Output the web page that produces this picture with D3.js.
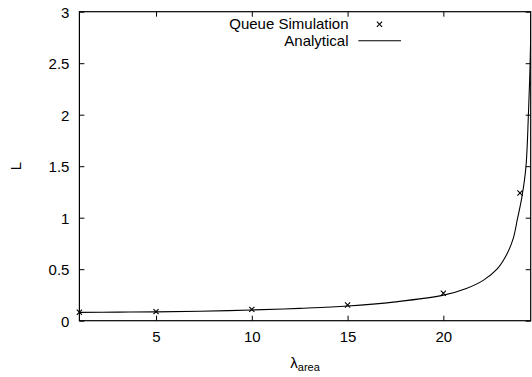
<!DOCTYPE html>
<html lang="en">
<head>
  <meta charset="UTF-8" />
  <title>Queue length vs arrival rate</title>
  <style>
    body { margin: 0; background: #fff; }
    svg text { font-family: "Liberation Sans", Arial, Helvetica, sans-serif; fill: #000; }
    .tick line { stroke: #000; stroke-width: 1px; }
    .domain { display: none; }
    .analytic-line { fill: none; stroke: #000; stroke-width: 1.1px; }
    .marker { stroke: #000; stroke-width: 1.1px; }
  </style>
</head>
<body>
  <script src="https://cdn.jsdelivr.net/npm/d3@7"></script>
  <script>
    // simulation results (lambda_area, L)
    var simLambda = [1, 5, 10, 15, 20, 24];
    var simL = [0.082, 0.088, 0.110, 0.152, 0.267, 1.24];

    // analytical curve
    var anaLambda = [1, 3, 5, 7.3, 10, 12.5, 15, 17.5, 20, 21.2, 22.1, 22.8, 23.3, 23.65, 23.87, 24.1, 24.31, 24.44, 24.53, 24.58];
    var anaL = [0.081, 0.083, 0.086, 0.092, 0.104, 0.120, 0.142, 0.183, 0.248, 0.313, 0.394, 0.50, 0.64, 0.80, 0.99, 1.2, 1.49, 2.0, 2.5, 3.0];

    var xTicks = [5, 10, 15, 20];
    var yTicks = [0, 0.5, 1, 1.5, 2, 2.5, 3];

    var w = 532;
    var h = 377;
    var margin = { top: 11.7, right: 1.3, bottom: 56.3, left: 79.4 };
    var iw = w - margin.left - margin.right;
    var ih = h - margin.top - margin.bottom;

    var svg = d3.select("body").append("svg")
      .attr("width", w)
      .attr("height", h);

    var xScale = d3.scaleLinear().domain([1, 24.56]).range([0, iw]);
    var yScale = d3.scaleLinear().domain([0, 3]).range([ih, 0]);

    var g = svg.append("g")
      .attr("transform", "translate(" + margin.left + "," + margin.top + ")");

    g.append("clipPath").attr("id", "plotclip")
      .append("rect").attr("x", 0).attr("y", 0).attr("width", iw).attr("height", ih);

    // axes, ticks point inward like gnuplot
    var fmt = function(d) { return String(d); };

    g.append("g")
      .attr("class", "yaxis")
      .style("font-size", "15px")
      .call(d3.axisLeft(yScale).tickValues(yTicks).tickFormat(fmt).tickSizeInner(-5).tickSizeOuter(0).tickPadding(10))
      .selectAll("text").attr("dy", "0.36em");

    g.append("g")
      .attr("transform", "translate(" + iw + ",0)")
      .call(d3.axisRight(yScale).tickValues(yTicks).tickFormat("").tickSizeInner(-5).tickSizeOuter(0));

    g.append("g")
      .attr("class", "xaxis")
      .attr("transform", "translate(0," + ih + ")")
      .style("font-size", "15px")
      .call(d3.axisBottom(xScale).tickValues(xTicks).tickFormat(fmt).tickSizeInner(-5).tickSizeOuter(0).tickPadding(11));

    g.append("g")
      .call(d3.axisTop(xScale).tickValues(xTicks).tickFormat("").tickSizeInner(-5).tickSizeOuter(0));

    svg.selectAll(".tick text").attr("font-family", null);

    // frame
    g.append("rect")
      .attr("x", 0).attr("y", 0)
      .attr("width", iw).attr("height", ih)
      .attr("fill", "none")
      .attr("stroke", "#000")
      .attr("stroke-width", 1.2);

    // analytical curve
    var anaData = anaLambda.map(function(d, i) { return { x: d, y: anaL[i] }; });
    var line = d3.line()
      .x(function(d) { return xScale(d.x); })
      .y(function(d) { return yScale(d.y); })
      .curve(d3.curveCatmullRom.alpha(0.5));

    g.append("path")
      .datum(anaData)
      .attr("class", "analytic-line")
      .attr("clip-path", "url(#plotclip)")
      .attr("d", line);

    // simulation markers (x shaped)
    var s = 2.6;
    var simData = simLambda.map(function(d, i) { return { x: d, y: simL[i] }; });
    var mk = g.selectAll(".mk")
      .data(simData)
      .enter()
      .append("g")
      .attr("transform", function(d) { return "translate(" + xScale(d.x) + "," + yScale(d.y) + ")"; });
    mk.append("line").attr("class", "marker").attr("x1", -s).attr("y1", -s).attr("x2", s).attr("y2", s);
    mk.append("line").attr("class", "marker").attr("x1", -s).attr("y1", s).attr("x2", s).attr("y2", -s);

    // legend
    var legend = svg.append("g").style("font-size", "15px");
    legend.append("text")
      .attr("x", 348.5).attr("y", 29)
      .attr("text-anchor", "end")
      .text("Queue Simulation");
    legend.append("text")
      .attr("x", 348.5).attr("y", 45.7)
      .attr("text-anchor", "end")
      .text("Analytical");
    var lm = legend.append("g").attr("transform", "translate(379.5,24.3)");
    lm.append("line").attr("class", "marker").attr("x1", -s).attr("y1", -s).attr("x2", s).attr("y2", s);
    lm.append("line").attr("class", "marker").attr("x1", -s).attr("y1", s).attr("x2", s).attr("y2", -s);
    legend.append("line")
      .attr("x1", 358.3).attr("x2", 401)
      .attr("y1", 40.7).attr("y2", 40.7)
      .attr("stroke", "#000").attr("stroke-width", 1.1);

    // axis titles
    var xt = svg.append("text")
      .attr("x", margin.left + iw / 2)
      .attr("y", 368)
      .attr("text-anchor", "middle")
      .style("font-size", "15px");
    xt.append("tspan").text("\u03bb");
    xt.append("tspan").attr("dy", 2.5).style("font-size", "11px").text("area");

    svg.append("text")
      .attr("transform", "translate(20.7," + (margin.top + ih / 2) + ") rotate(-90)")
      .attr("text-anchor", "middle")
      .style("font-size", "15px")
      .text("L");
  </script>
</body>
</html>
